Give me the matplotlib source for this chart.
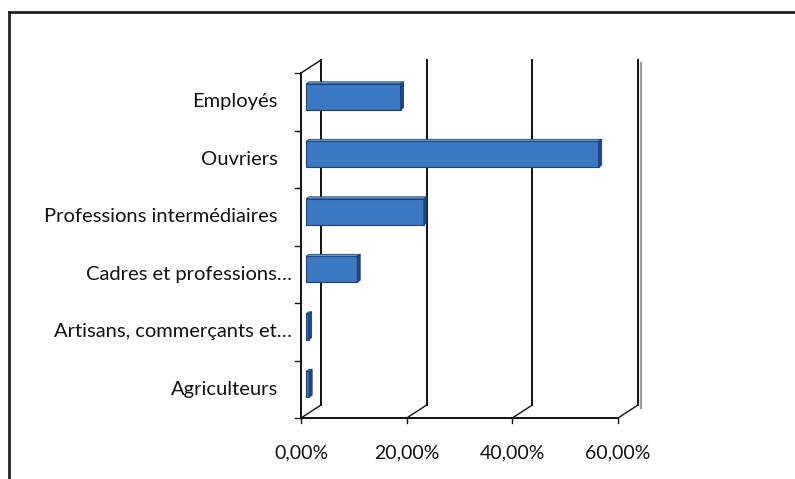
import matplotlib.pyplot as plt
from matplotlib.patches import Polygon

categories = ["Agriculteurs", "Artisans, commerçants et…", "Cadres et professions…",
              "Professions intermédiaires", "Ouvriers", "Employés"]
shares = [0.6, 0.5, 9.7, 22.3, 55.4, 17.9]  # en %
xticks = [0, 20, 40, 60]
xtick_labels = ["0,00%", "20,00%", "40,00%", "60,00%"]

plt.rcParams['font.family'] = ['Lato', 'DejaVu Sans']

W, H = 795, 479
fig = plt.figure(figsize=(W / 100, H / 100), dpi=100)
fig.patch.set_facecolor('white')

# plot area (front plane) in pixels
x0, x1 = 301, 618
ytop, ybot = 73, 418
ax = fig.add_axes([x0 / W, 1 - ybot / H, (x1 - x0) / W, (ybot - ytop) / H])
ax.set_xlim(0, 60)
ax.set_ylim(0, 6)
ax.axis('off')

px_x = (x1 - x0) / 60.0   # pixels per %
px_y = (ybot - ytop) / 6.0  # pixels per category

def dx(p):
    return p / px_x

def dy(p):
    return p / px_y

# depth of the chart walls
wx, wy = dx(20), dy(13)

# back wall gridlines
for t in xticks:
    ax.plot([t + wx, t + wx], [wy, 6 + wy], color='#111111', lw=1.4, clip_on=False)
    # floor diagonals
    ax.plot([t, t + wx], [0, wy], color='#111111', lw=1.0, clip_on=False)
ax.plot([60 + wx + dx(3), 60 + wx + dx(3)], [wy - dy(3), 6 + wy - dy(3)],
        color='#9a9a9a', lw=1.6, clip_on=False)
# left wall top edge
ax.plot([0, wx], [6, 6 + wy], color='#111111', lw=1.0, clip_on=False)

# front axes
ax.plot([0, 0], [0, 6], color='#111111', lw=1.4, clip_on=False)
ax.plot([0, 60], [0, 0], color='#111111', lw=1.4, clip_on=False)
for k in range(7):
    ax.plot([-dx(6), 0], [k, k], color='#111111', lw=1.0, clip_on=False)
for t in xticks:
    ax.plot([t, t], [0, -dy(5)], color='#111111', lw=1.0, clip_on=False)

# 3D bars
bx, by = dx(5), dy(5)     # bar front plane offset
tx, ty = dx(3), dy(2)     # bar depth
bh = 0.45
ypos = [k + 0.5 for k in range(len(categories))]
ax.barh([y + by for y in ypos], shares, height=bh, left=bx, color='#3a79c2',
        edgecolor='#1d3f73', linewidth=0.8, clip_on=False, zorder=3)
for y, v in zip(ypos, shares):
    yb, yt = y + by - bh / 2, y + by + bh / 2
    top = Polygon([(bx, yt), (bx + v, yt), (bx + v + tx, yt + ty), (bx + tx, yt + ty)],
                  closed=True, facecolor='#6ea3de', edgecolor='#1d3f73', lw=0.6,
                  clip_on=False, zorder=3)
    side = Polygon([(bx + v, yb), (bx + v + tx, yb + ty), (bx + v + tx, yt + ty), (bx + v, yt)],
                   closed=True, facecolor='#1f477f', edgecolor='#1d3f73', lw=0.6,
                   clip_on=False, zorder=3)
    ax.add_patch(top)
    ax.add_patch(side)

# labels (truncated ones run a little closer to the axis)
for y, c in zip(ypos, categories):
    pad = 9 if c.endswith('…') else 23
    ax.text(-dx(pad), y, c, ha='right', va='center', fontsize=14.5, color='#111111')
for t, lab in zip(xticks, xtick_labels):
    ax.text(t, -dy(35), lab, ha='center', va='center', fontsize=14, color='#111111')

# outer frame
fig.add_artist(plt.Line2D([9 / W, 1.0], [1 - 12 / H, 1 - 12 / H], color='#222222', lw=2))
fig.add_artist(plt.Line2D([9 / W, 9 / W], [0, 1 - 12 / H], color='#222222', lw=2))

fig.savefig('out.png', dpi=100, facecolor='white')
